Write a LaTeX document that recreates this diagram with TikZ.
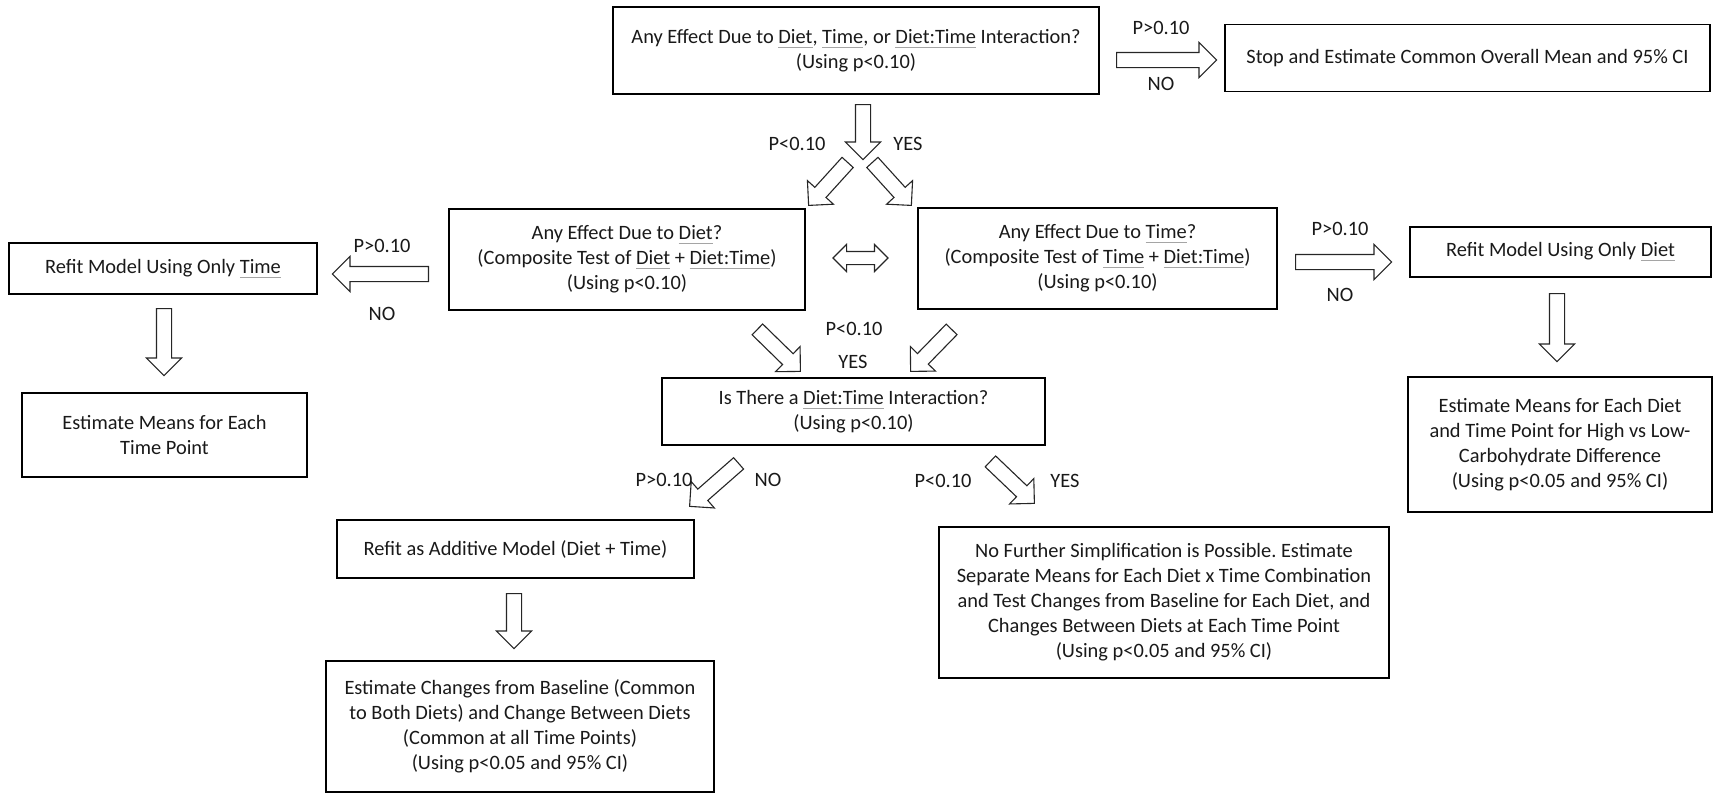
\documentclass[tikz,border=0pt]{standalone}
\usepackage{fontspec}
\setmainfont{Carlito}
\usetikzlibrary{shapes.arrows,calc}
\definecolor{ulgray}{RGB}{165,165,165}
\newcommand\myul[1]{\setbox0\hbox{#1}\rlap{\textcolor{ulgray}{\rule[-2.3pt]{\wd0}{0.6pt}}}\box0\relax}
\frenchspacing
\tikzset{
 box/.style={draw=black, line width=0.9pt, align=center, inner sep=0pt, font=\fontsize{10.2}{12.5}\selectfont, text=black!90},
 sz/.style 2 args={minimum width=#1*0.5pt, minimum height=#2*0.5pt},
 lbl/.style={font=\fontsize{10.2}{12.5}\selectfont, inner sep=0pt, text=black!90},
 barrowst/.style={shape=single arrow, draw=black!85, line width=0.55pt, fill=white, inner xsep=0pt, inner ysep=3.5pt, single arrow head extend=5pt, single arrow tip angle=90, anchor=tail},
 darrowst/.style={shape=double arrow, draw=black!85, line width=0.55pt, fill=white, inner xsep=0pt, inner ysep=3pt, double arrow head extend=3.5pt, double arrow tip angle=90},
}
\newcommand\barr[3]{\path let \p1=(#2), \p2=(#3), \n1={atan2(\y2-\y1,\x2-\x1)}, \n2={veclen(\x2-\x1,\y2-\y1)} in node[barrowst, rotate=\n1, minimum height=\n2] (#1) at (\p1) {};}
\begin{document}
\begin{tikzpicture}[x=0.5pt,y=-0.5pt]
\useasboundingbox (0,0) rectangle (1715,794);
% boxes
\node[box, sz={486}{87}] (top) at (856,50.5) {Any Effect Due to \myul{Diet}, \myul{Time}, or \myul{Diet:Time} Interaction?\\(Using p<0.10)};
\node[box, sz={485}{67}] (stop) at (1467.5,58) {Stop and Estimate Common Overall Mean and 95\% CI};
\node[box, sz={356}{101}] (dietq) at (627,259.5) {Any Effect Due to \myul{Diet}?\\(Composite Test of \myul{Diet} + \myul{Diet:Time})\\(Using p<0.10)};
\node[box, sz={359}{101}] (timeq) at (1097.5,258.5) {Any Effect Due to \myul{Time}?\\(Composite Test of \myul{Time} + \myul{Diet:Time})\\(Using p<0.10)};
\node[box, sz={308}{51}] (refittime) at (163,268.5) {Refit Model Using Only \myul{Time}};
\node[box, sz={301}{50}] (refitdiet) at (1560.5,252) {Refit Model Using Only \myul{Diet}};
\node[box, sz={285}{84}] (esttime) at (164.5,435) {Estimate Means for Each\\Time Point};
\node[box, sz={304}{135}] (estdiet) at (1560,444.5) {Estimate Means for Each Diet\\and Time Point for High vs Low-\\Carbohydrate Difference\\(Using p<0.05 and 95\% CI)};
\node[box, sz={383}{67}] (inter) at (853.5,411.5) {Is There a \myul{Diet:Time} Interaction?\\(Using p<0.10)};
\node[box, sz={357}{58}] (additive) at (515.5,549) {Refit as Additive Model (Diet + Time)};
\node[box, sz={450}{151}] (nofurther) at (1164,602.5) {No Further Simplification is Possible. Estimate\\Separate Means for Each Diet x Time Combination\\and Test Changes from Baseline for Each Diet, and\\Changes Between Diets at Each Time Point\\(Using p<0.05 and 95\% CI)};
\node[box, sz={388}{131}] (estchanges) at (520,726.5) {Estimate Changes from Baseline (Common\\to Both Diets) and Change Between Diets\\(Common at all Time Points)\\(Using p<0.05 and 95\% CI)};
% arrow end points
\coordinate (a1s) at (1116,60);  \coordinate (a1e) at (1216,60);
\coordinate (a2s) at (863,104);  \coordinate (a2e) at (863,159);
\coordinate (a3s) at (848,162);  \coordinate (a3e) at (809,205);
\coordinate (a4s) at (872,162);  \coordinate (a4e) at (911,205);
\coordinate (a5s) at (429,274);  \coordinate (a5e) at (333,274);
\coordinate (a6s) at (1295,262); \coordinate (a6e) at (1391,262);
\coordinate (a7s) at (164,308);  \coordinate (a7e) at (164,375);
\coordinate (a8s) at (1557,293); \coordinate (a8e) at (1557,361);
\coordinate (a9s) at (757,329);  \coordinate (a9e) at (800,371);
\coordinate (a10s) at (952,329); \coordinate (a10e) at (911,371);
\coordinate (a11s) at (739,463); \coordinate (a11e) at (690,506);
\coordinate (a12s) at (990,461); \coordinate (a12e) at (1034,503);
\coordinate (a13s) at (514,593); \coordinate (a13e) at (514,648);
\barr{r1}{a1s}{a1e}
\barr{r2}{a2s}{a2e}
\barr{r3}{a3s}{a3e}
\barr{r4}{a4s}{a4e}
\barr{r5}{a5s}{a5e}
\barr{r6}{a6s}{a6e}
\barr{r7}{a7s}{a7e}
\barr{r8}{a8s}{a8e}
\barr{r9}{a9s}{a9e}
\barr{r10}{a10s}{a10e}
\barr{r11}{a11s}{a11e}
\barr{r12}{a12s}{a12e}
\barr{r13}{a13s}{a13e}
\node[darrowst, minimum height=27.5pt] (dd) at (860.5,258) {};
% labels
\node[lbl] (l1) at (1161,28) {P>0.10};
\node[lbl] (l2) at (1161,84) {NO};
\node[lbl] (l3) at (797,144) {P<0.10};
\node[lbl] (l4) at (908,144) {YES};
\node[lbl] (l5) at (382,246) {P>0.10};
\node[lbl] (l6) at (382,314) {NO};
\node[lbl] (l7) at (1340,229) {P>0.10};
\node[lbl] (l8) at (1340,295) {NO};
\node[lbl] (l9) at (854,329) {P<0.10};
\node[lbl] (l10) at (853,362) {YES};
\node[lbl] (l11) at (664,480) {P>0.10};
\node[lbl] (l12) at (768,480) {NO};
\node[lbl] (l13) at (943,481) {P<0.10};
\node[lbl] (l14) at (1065,481) {YES};
\end{tikzpicture}
\end{document}
